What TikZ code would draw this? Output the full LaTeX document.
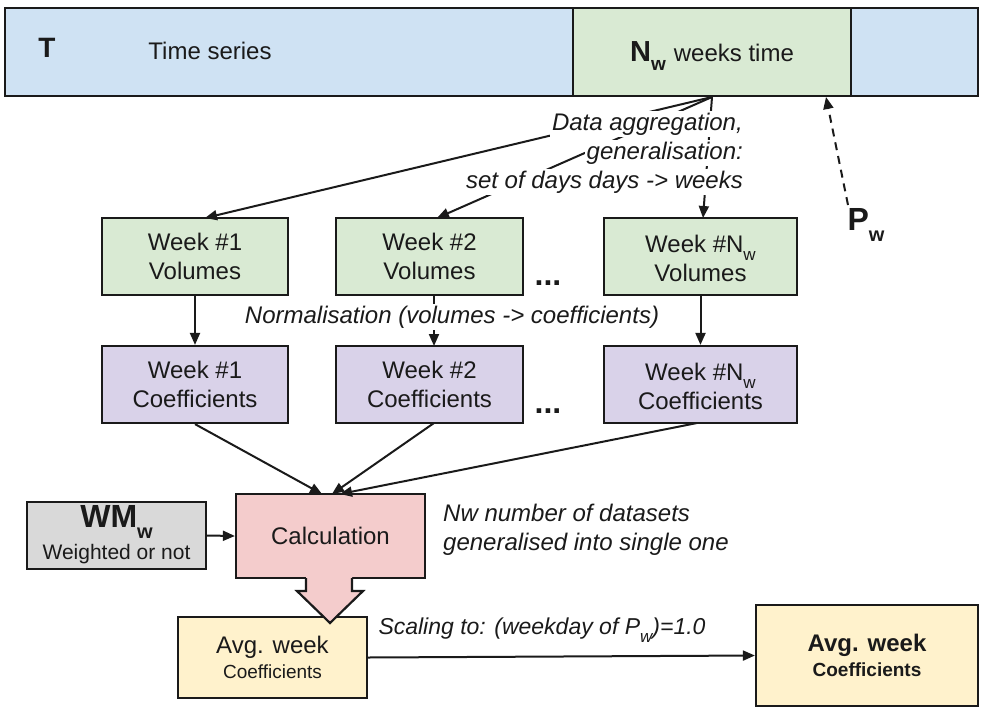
\documentclass[tikz,border=0pt]{standalone}
\usepackage{fontspec}
\setmainfont{Liberation Sans}
\usetikzlibrary{arrows.meta}

\definecolor{tsblue}{HTML}{CFE2F3}
\definecolor{wkgreen}{HTML}{D9EAD3}
\definecolor{cfpurple}{HTML}{D9D2E9}
\definecolor{calcpink}{HTML}{F4CCCC}
\definecolor{wmgrey}{HTML}{D9D9D9}
\definecolor{avgyellow}{HTML}{FFF2CC}
\definecolor{linec}{HTML}{1A1A1A}

% lowered subscript in the drawing's style
\newcommand{\lowsub}[2][17]{\raisebox{-0.32em}{\fontsize{#1}{#1}\selectfont #2}}

\begin{document}
\begin{tikzpicture}[x=1pt,y=-1pt,
  every node/.style={font=\fontsize{24}{29}\selectfont, text=linec},
  box/.style={draw=linec, line width=2.2pt, inner sep=0pt, align=center},
  conn/.style={draw=linec, line width=2pt, -{Triangle[length=12pt,width=10pt]}},
  dconn/.style={conn, dash pattern=on 8pt off 6pt},
  note/.style={fill=white, inner sep=2pt, font=\fontsize{24}{29}\selectfont\itshape},
  dots/.style={font=\fontsize{32}{32}\selectfont\bfseries, inner sep=0pt}]
\useasboundingbox (0,0) rectangle (983,713);

% time series bar with the N_w weeks window
\node[box, fill=tsblue, minimum width=973pt, minimum height=88pt] (ts) at (491.5,52) {};
\node[box, fill=wkgreen, minimum width=278pt, minimum height=88pt] (nw) at (712,52) {};
\node (nwl) at (712,56)
  {\fontsize{29}{29}\selectfont\textbf{N}\lowsub[19]{\textbf{w}} \fontsize{24}{29}\selectfont weeks time};
\node[font=\fontsize{28}{28}\selectfont\bfseries] (tlab) at (47,48) {T};
\node (tsl) at (210,51) {Time series};

% weekly volumes
\node[box, fill=wkgreen, minimum width=186pt, minimum height=77pt] (v1) at (195,256.5) {Week \#1\\Volumes};
\node[box, fill=wkgreen, minimum width=187pt, minimum height=77pt] (v2) at (429.5,256.5) {Week \#2\\Volumes};
\node[box, fill=wkgreen, minimum width=193pt, minimum height=77pt] (v3) at (700.5,256.5) {};
\node[align=center, inner sep=0pt] (v3t) at (700.5,258.5) {Week \#N\lowsub{w}\\Volumes};
\node[dots] (d1) at (548,283) {...};

% weekly coefficients
\node[box, fill=cfpurple, minimum width=186pt, minimum height=77pt] (c1) at (195,384.5) {Week \#1\\Coefficients};
\node[box, fill=cfpurple, minimum width=187pt, minimum height=77pt] (c2) at (429.5,384.5) {Week \#2\\Coefficients};
\node[box, fill=cfpurple, minimum width=193pt, minimum height=77pt] (c3) at (700.5,384.5) {};
\node[align=center, inner sep=0pt] (c3t) at (700.5,386.5) {Week \#N\lowsub{w}\\Coefficients};
\node[dots] (d2) at (548,411) {...};

% aggregation arrows from the N_w window
\coordinate (agg) at (712,97);
\draw[conn] (agg) -- (205,218);
\draw[conn] (agg) -- (437,218);
\draw[conn] (agg) -- (703,218);
\node[note, anchor=east] (a1) at (745,124) {Data aggregation,};
\node[note, anchor=east] (a2) at (745,153) {generalisation:};
\node[note, anchor=east] (a3) at (745,182) {set of days days -> weeks};

% reference point P_w
\node[font=\fontsize{32}{32}\selectfont\bfseries] (pw) at (866,225) {P\lowsub[20]{w}};
\coordinate (pwt) at (826,97);
\draw[dconn] (848,205) -- (pwt);

% normalisation
\draw[conn] (v1.south) -- (c1.north);
\draw[conn] (434,295) -- (434,346);
\draw[conn] (v3.south) -- (c3.north);
\node[note] (norm) at (452,317) {Normalisation (volumes -> coefficients)};

% calculation
\node[box, fill=calcpink, minimum width=189pt, minimum height=84pt] (calc) at (330.5,536) {Calculation};
\node[box, fill=wmgrey, minimum width=179pt, minimum height=67pt] (wm) at (116.5,535.5) {};
\node[font=\fontsize{32}{32}\selectfont\bfseries] (wmt) at (116.5,522) {WM\lowsub[20]{w}};
\node[font=\fontsize{21}{24}\selectfont] (wms) at (116.5,554) {Weighted or not};
\draw[conn] (wm.east) -- (calc.west);
\draw[conn] (c1.south) -- (322,494);
\draw[conn] (434,423) -- (332,494);
\draw[conn] (697,423) -- (340,494);
\node[note, align=left, anchor=west, inner sep=1pt] (nwn) at (442,530)
  {Nw number of datasets\\generalised into single one};

% averaged week and its scaled version
\node[box, fill=avgyellow, minimum width=189pt, minimum height=81pt] (avg) at (272.5,657.5)
  {Avg. week\\[-4pt]\fontsize{19}{22}\selectfont Coefficients};
\node[box, fill=avgyellow, minimum width=222pt, minimum height=101pt] (fin) at (867,655.5)
  {\bfseries Avg. week\\[-4pt]\fontsize{19}{22}\selectfont\bfseries Coefficients};
\draw[conn] (avg.east) -- (fin.west);
\node[font=\fontsize{23}{28}\selectfont\itshape, inner sep=0pt] (scl) at (542,630)
  {Scaling to: (weekday of P\lowsub{w})=1.0};

% block arrow from the calculation down to the averaged week
\fill[calcpink] (306,576) -- (306,591) -- (297,591) -- (330,623) -- (363,591) -- (352,591) -- (352,576) -- cycle;
\draw[linec, line width=2.2pt, line join=miter] (306,578) -- (306,591) -- (297,591) -- (330,623) -- (363,591) -- (352,591) -- (352,578);
\end{tikzpicture}
\end{document}
